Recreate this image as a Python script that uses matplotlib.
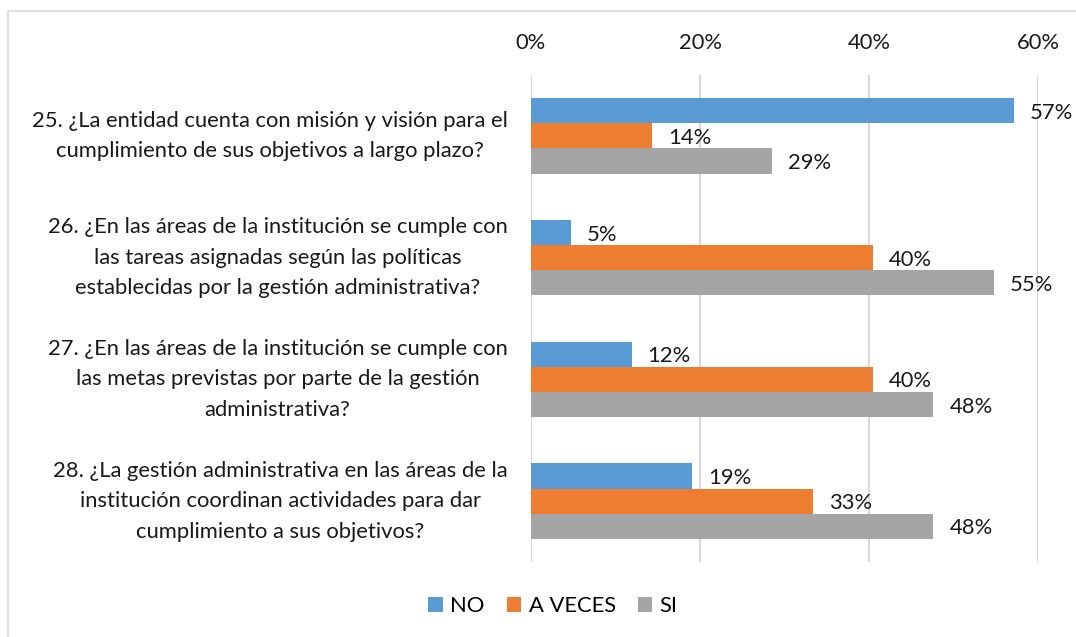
import matplotlib
matplotlib.use('Agg')
import matplotlib.pyplot as plt
from matplotlib.patches import Patch, Rectangle
import numpy as np

plt.rcParams['font.family'] = ['Lato', 'DejaVu Sans']

# questions (top to bottom) and answer shares
questions = [
    "25. ¿La entidad cuenta con misión y visión para el\ncumplimiento de sus objetivos a largo plazo?",
    "26. ¿En las áreas de la institución se cumple con\nlas tareas asignadas según las políticas\nestablecidas por la gestión administrativa?",
    "27. ¿En las áreas de la institución se cumple con\nlas metas previstas por parte de la gestión\nadministrativa?",
    "28. ¿La gestión administrativa en las áreas de la\ninstitución coordinan actividades para dar\ncumplimiento a sus objetivos?",
]
series_names = ["NO", "A VECES", "SI"]
no_vals = [0.5714, 0.0476, 0.1190, 0.1905]
aveces_vals = [0.1429, 0.4048, 0.4048, 0.3333]
si_vals = [0.2857, 0.5476, 0.4762, 0.4762]
xticks = [0.0, 0.2, 0.4, 0.6]
xtick_labels = ["0%", "20%", "40%", "60%"]

colors = ['#5B9BD5', '#ED7D31', '#A5A5A5']
fs = 15.8

fig = plt.figure(figsize=(10.76, 6.37), dpi=100)
# light chart border (only top and left edges fall inside the picture)
fig.patches.append(Rectangle((8/1076, -0.5), 1.5, 1.5 - 11/637, transform=fig.transFigure,
                             fill=False, edgecolor='#d9d9d9', linewidth=1.2))

ax = fig.add_axes([531/1076, 1 - 562/637, (1038 - 531)/1076, (562 - 75)/637])

y = np.arange(len(questions))
bh = 0.207
all_vals = [no_vals, aveces_vals, si_vals]
for k, vals in enumerate(all_vals):
    pos = y + (k - 1) * bh
    bars = ax.barh(pos, vals, height=bh, color=colors[k], zorder=3)
    for b, v in zip(bars, vals):
        ax.annotate("%d%%" % round(v * 100), (v, b.get_y() + b.get_height()/2),
                    xytext=(11.5, -1.5), textcoords='offset points',
                    ha='left', va='center', fontsize=fs, color='#1a1a1a')

ax.set_xlim(0, 0.6)
ax.set_ylim(len(questions) - 0.5, -0.5)
ax.xaxis.tick_top()
ax.set_xticks(xticks)
ax.set_xticklabels(xtick_labels, fontsize=fs, color='#1a1a1a')
ax.tick_params(axis='x', length=0, pad=16)
ax.set_yticks(y)
ax.set_yticklabels(questions, fontsize=fs, color='#1a1a1a', linespacing=1.65)
for t in ax.get_yticklabels():
    t.set_multialignment('center')
    t.set_verticalalignment('center')
ax.tick_params(axis='y', length=0, pad=17)
ax.grid(True, axis='x', color='#d9d9d9', linewidth=1.5, zorder=0)
for s in ax.spines.values():
    s.set_visible(False)

handles = [Patch(facecolor=c, edgecolor='none') for c in colors]
fig.legend(handles, series_names, loc='center', bbox_to_anchor=(553/1076, 1 - 606/637),
           ncol=3, frameon=False, fontsize=fs, handlelength=0.65, handleheight=0.65,
           handletextpad=0.35, columnspacing=1.0)

fig.savefig('out.png', dpi=100)
